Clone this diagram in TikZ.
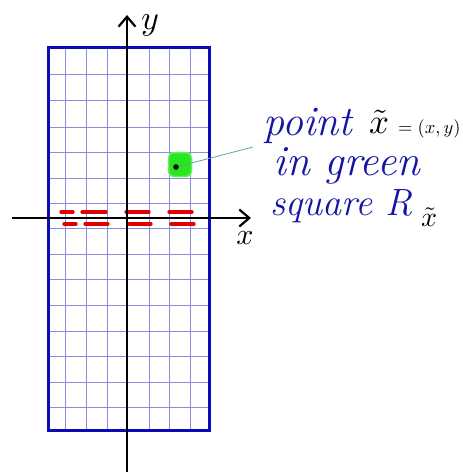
\documentclass[tikz,border=0pt]{standalone}
\usepackage{graphicx}
\usetikzlibrary{arrows.meta}
\definecolor{penblue}{RGB}{20,20,165}
\definecolor{boxblue}{RGB}{10,10,185}
\definecolor{gridblue}{RGB}{140,140,225}
\definecolor{dashred}{RGB}{225,0,0}
\definecolor{patchgreen}{RGB}{40,230,30}
\definecolor{leader}{RGB}{90,170,150}
\tikzset{
  gridline/.style={draw=gridblue, line width=1.0},
  border/.style={draw=boxblue, line width=3},
  axis/.style={draw=black, line width=2.6, -{Straight Barb[length=10,width=17,line width=2.2]}},
  reddash/.style={draw=dashred, line width=3.3, line cap=round},
  handtext/.style={text=penblue, inner sep=0, anchor=base west, font=\fontsize{40}{48}\selectfont\itshape},
  blacktext/.style={text=black, inner sep=0},
  leaderline/.style={draw=leader, line width=0.8},
}
\begin{document}
\begin{tikzpicture}[x=1pt,y=-1pt]
\useasboundingbox (0,0) rectangle (463,472);
% grid
\foreach \gx in {65,86,107,149,169,190}
  \draw[gridline] (\gx,48) -- (\gx,430);
\foreach \gy in {74,100,127,152,178,203,228,254,279,305,331,356,382,407}
  \draw[gridline] (48,\gy) -- (209,\gy);
% border
\draw[border] (48,47) rectangle (209,430);
% red dashes
\foreach \a/\b in {61/73,82/106,126/149,169/192}
  \draw[reddash] (\a,212) -- (\b,212);
\foreach \a/\b in {64/76,85/108,129/151,171/194}
  \draw[reddash] (\a,224) -- (\b,224);
% axes
\coordinate (xs) at (12,218);
\coordinate (xe) at (251,218);
\coordinate (ys) at (127,472);
\coordinate (ye) at (127,15);
\draw[axis] (xs) -- (xe);
\draw[axis] (ys) -- (ye);
\node[blacktext] (ylab) at (150,25) {\scalebox{3.4}{$y$}};
\node[blacktext] (xlab) at (245,238) {\scalebox{3}{$x$}};
% green square and point
\node[fill=patchgreen, draw=patchgreen!70!white, line width=1.5, rounded corners=6, minimum width=23, minimum height=24, inner sep=0] (patch) at (180,164.5) {};
\node[circle, fill=black, inner sep=0, minimum size=5.5] (pt) at (176,167) {};
\coordinate (lend) at (253,147);
\draw[leaderline] (pt) -- (lend);
% texts
\node[handtext, font=\fontsize{42}{48}\selectfont\itshape] (l1) at (263,135) {point};
\node[blacktext, anchor=base west] (xt) at (369,133) {\scalebox{3.5}{$\tilde{x}$}};
\node[blacktext, anchor=base west] (xy) at (398,133) {\scalebox{1.85}{$=(x,y)$}};
\node[handtext, font=\fontsize{43}{48}\selectfont\itshape] (l2) at (273,175) {in green};
\node[handtext, font=\fontsize{38}{48}\selectfont\itshape] (l3) at (270,215) {square R};
\node[blacktext, anchor=base west] (rsub) at (421,226) {\scalebox{2.8}{$\tilde{x}$}};
\end{tikzpicture}
\end{document}
